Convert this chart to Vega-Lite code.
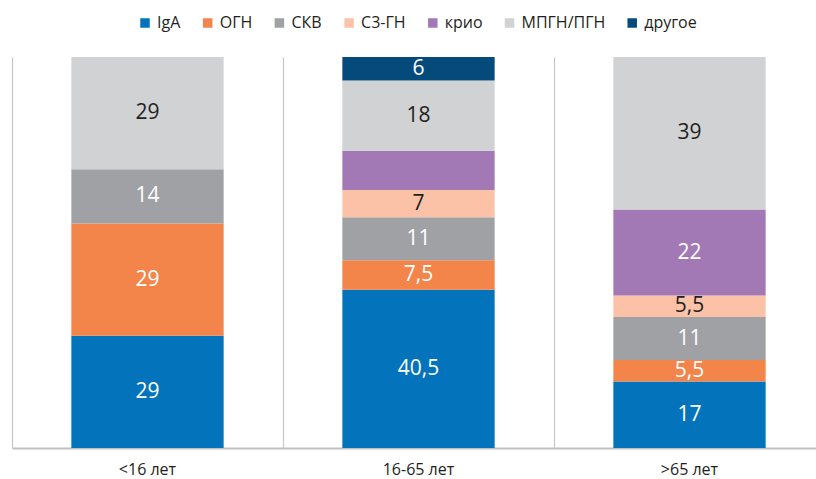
{
  "$schema": "https://vega.github.io/schema/vega-lite/v6.json",
  "width": 804,
  "height": 391,
  "autosize": {"type": "none"},
  "padding": {"left": 12, "top": 57, "right": 0, "bottom": 31},
  "background": "white",
  "config": {
    "font": "Open Sans",
    "view": {"stroke": null},
    "locale": {"number": {"decimal": ",", "thousands": " ", "grouping": [3], "currency": ["", ""]}}
  },
  "data": {
    "values": [
      {"group": "<16 лет", "cat": "IgA", "value": 29},
      {"group": "<16 лет", "cat": "ОГН", "value": 29},
      {"group": "<16 лет", "cat": "СКВ", "value": 14},
      {"group": "<16 лет", "cat": "МПГН/ПГН", "value": 29},
      {"group": "16-65 лет", "cat": "IgA", "value": 40.5},
      {"group": "16-65 лет", "cat": "ОГН", "value": 7.5},
      {"group": "16-65 лет", "cat": "СКВ", "value": 11},
      {"group": "16-65 лет", "cat": "С3-ГН", "value": 7},
      {"group": "16-65 лет", "cat": "крио", "value": 10},
      {"group": "16-65 лет", "cat": "МПГН/ПГН", "value": 18},
      {"group": "16-65 лет", "cat": "другое", "value": 6},
      {"group": ">65 лет", "cat": "IgA", "value": 17},
      {"group": ">65 лет", "cat": "ОГН", "value": 5.5},
      {"group": ">65 лет", "cat": "СКВ", "value": 11},
      {"group": ">65 лет", "cat": "С3-ГН", "value": 5.5},
      {"group": ">65 лет", "cat": "крио", "value": 22},
      {"group": ">65 лет", "cat": "МПГН/ПГН", "value": 39}
    ]
  },
  "transform": [
    {"calculate": "indexof(['IgA', 'ОГН', 'СКВ', 'С3-ГН', 'крио', 'МПГН/ПГН', 'другое'], datum.cat)", "as": "k"}
  ],
  "encoding": {
    "x": {
      "field": "group",
      "type": "nominal",
      "sort": ["<16 лет", "16-65 лет", ">65 лет"],
      "scale": {"paddingInner": 0, "paddingOuter": 0, "range": [0, 813]},
      "axis": {
        "title": null,
        "labelAngle": 0,
        "labelFontSize": 16,
        "labelColor": "#231F20",
        "labelPadding": 13,
        "ticks": false,
        "domainColor": "#BFC0C2",
        "domainWidth": 2,
        "grid": true,
        "gridColor": "#C6C7C9",
        "gridWidth": 1.2,
        "bandPosition": 0
      }
    },
    "order": {"field": "k", "type": "quantitative", "sort": "ascending"}
  },
  "layer": [
    {
      "mark": {"type": "bar", "width": {"band": 0.562}},
      "encoding": {
        "y": {"field": "value", "type": "quantitative", "stack": "normalize", "axis": null, "scale": {"domain": [0, 1]}},
        "color": {
          "field": "cat",
          "type": "nominal",
          "sort": ["IgA", "ОГН", "СКВ", "С3-ГН", "крио", "МПГН/ПГН", "другое"],
          "scale": {
            "domain": ["IgA", "ОГН", "СКВ", "С3-ГН", "крио", "МПГН/ПГН", "другое"],
            "range": ["#0373BB", "#F3844A", "#A0A1A5", "#FBC2A7", "#A279B4", "#D1D2D4", "#044B7C"]
          },
          "legend": {
            "title": null,
            "orient": "none",
            "direction": "horizontal",
            "legendX": 125,
            "legendY": -42,
            "symbolType": "square",
            "symbolSize": 90,
            "symbolStrokeWidth": 0,
            "labelFontSize": 16,
            "labelColor": "#231F20",
            "labelOffset": 4,
            "columnPadding": 18.7,
            "padding": 0
          }
        }
      }
    },
    {
      "mark": {"type": "text", "fontSize": 21, "baseline": "middle", "align": "center"},
      "encoding": {
        "y": {"field": "value", "type": "quantitative", "stack": "normalize", "bandPosition": 0.5},
        "detail": {"field": "cat"},
        "text": {
          "condition": {"test": "datum.group === '16-65 лет' && datum.cat === 'крио'", "value": ""},
          "field": "value", "type": "quantitative", "format": ".1~f"
        },
        "color": {
          "condition": {"test": "datum.cat === 'С3-ГН' || datum.cat === 'МПГН/ПГН'", "value": "#231F20"},
          "value": "#FFFFFF"
        }
      }
    }
  ]
}
